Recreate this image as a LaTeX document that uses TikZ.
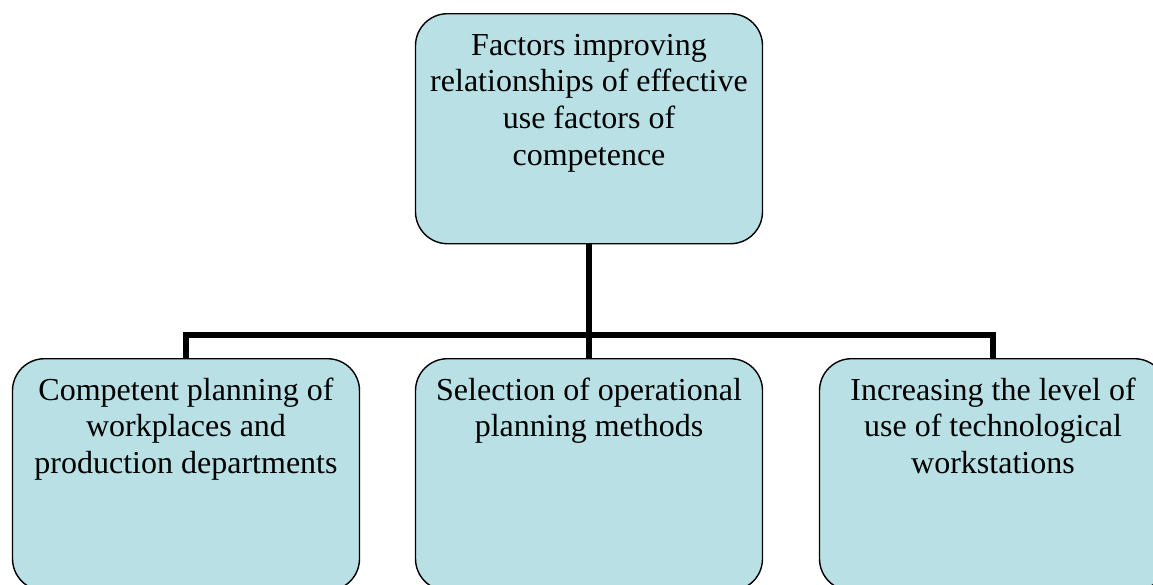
\documentclass[tikz,border=0pt]{standalone}
\usepackage{fontspec}
\setmainfont{Liberation Serif}
\usetikzlibrary{backgrounds}
\definecolor{boxfill}{RGB}{185,224,228}
\begin{document}
\begin{tikzpicture}[x=1pt,y=1pt,
  box/.style={draw=black, line width=1.4pt, fill=boxfill, rounded corners=32pt,
    minimum width=347pt, minimum height=232pt, inner sep=0pt, anchor=north},
  lbl/.style={inner sep=0pt, anchor=base, font=\fontsize{32}{36.7}\selectfont},
  conn/.style={draw=black, line width=6.5pt, line join=miter}]
\useasboundingbox (0,0) rectangle (1153,-584);
\clip (0,0) rectangle (1153,-584);
% boxes
\node[box, minimum height=230pt] (top) at (589,-13) {};
\node[box] (left) at (186,-358) {};
\node[box] (mid) at (589,-358) {};
\node[box] (right) at (993,-358) {};
\coordinate (j) at (589,-335);
% connectors behind the boxes
\begin{scope}[on background layer]
\fill[white] (0,0) rectangle (1153,-584);
\draw[conn] (top.south) -- (j);
\draw[conn] (left.north) |- (j) -| (right.north);
\draw[conn] (j) -- (mid.north);
\end{scope}
% labels
\node[lbl] (toptext) at ([yshift=-42pt]top.north) {\begin{tabular}[t]{@{}c@{}}Factors improving\\relationships of effective\\use factors of\\competence\end{tabular}};
\node[lbl] (lefttext) at ([yshift=-42pt]left.north) {\begin{tabular}[t]{@{}c@{}}Competent planning of\\workplaces and\\production departments\end{tabular}};
\node[lbl] (midtext) at ([yshift=-42pt]mid.north) {\begin{tabular}[t]{@{}c@{}}Selection of operational\\planning methods\end{tabular}};
\node[lbl] (righttext) at ([yshift=-42pt]right.north) {\begin{tabular}[t]{@{}c@{}}Increasing the level of\\use of technological\\workstations\end{tabular}};
\end{tikzpicture}
\end{document}
